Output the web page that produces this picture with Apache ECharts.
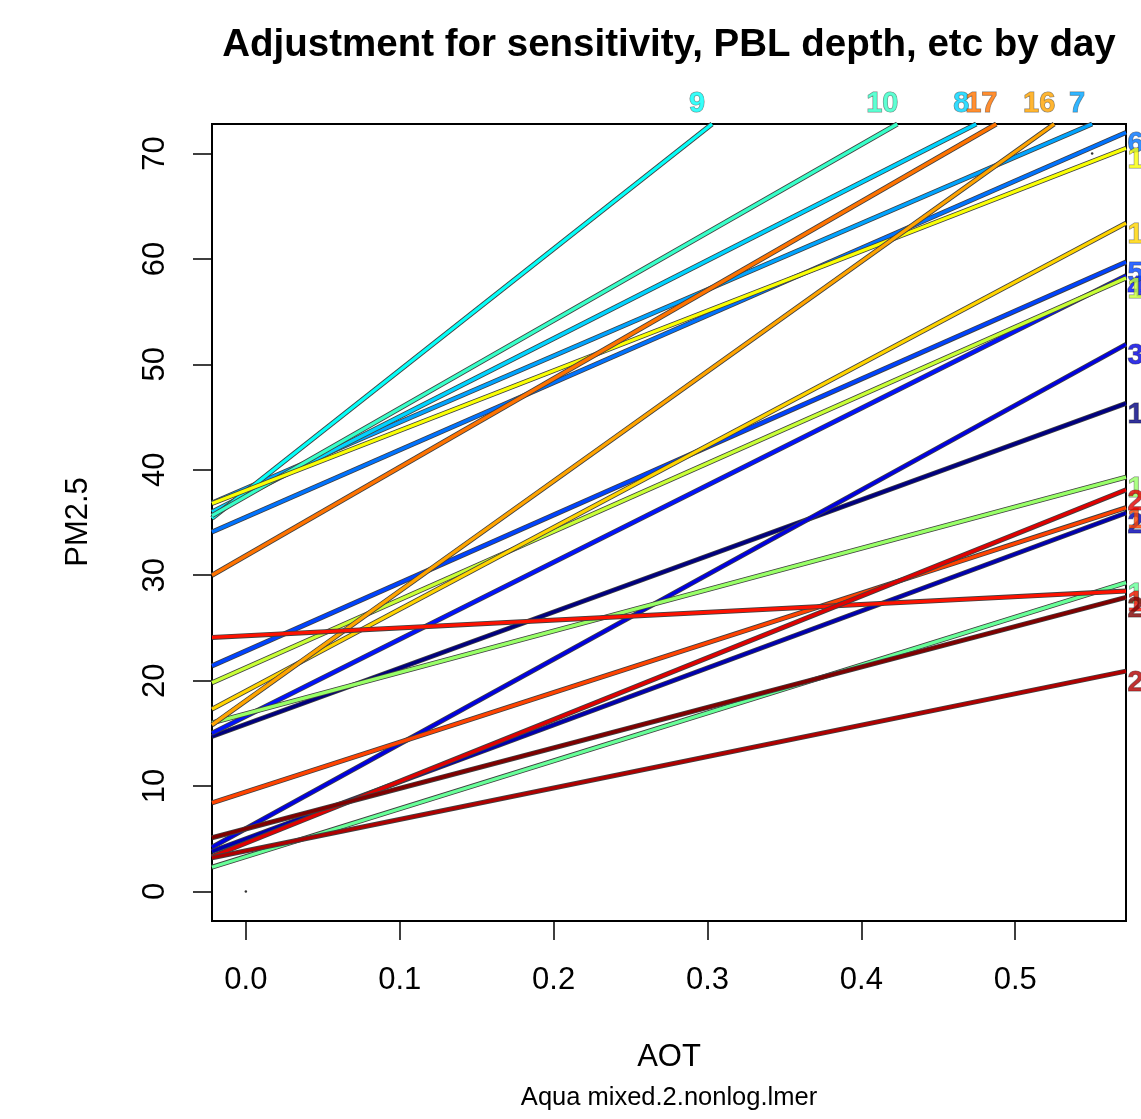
<!DOCTYPE html>
<html>
<head>
<meta charset="utf-8">
<title>Adjustment for sensitivity, PBL depth, etc by day</title>
<script src="https://cdn.jsdelivr.net/npm/echarts@6.0.0/dist/echarts.min.js"></script>
<style>
  html, body { margin: 0; padding: 0; background: #fff; }
  #chart { width: 1141px; height: 1119px; }
</style>
</head>
<body>
<div id="chart"></div>
<script>
// one fitted line per day
const days = [1, 2, 3, 4, 5, 6, 7, 8, 9, 10, 11, 12, 13, 14, 15, 16, 17, 18, 19, 20, 21, 22];
// PM2.5 where each line enters at the left edge of the plot
const startAOT = -0.022;
const startPM = [14.7, 3.8, 4.2, 15.0, 21.4, 34.1, 36.85, 36.0, 35.4, 35.65, 2.3,
                 16.0, 19.8, 36.8, 17.3, 15.8, 30.0, 8.4, 24.1, 3.3, 3.2, 5.1];
// where each line leaves the plot (right edge or top edge)
const endAOT = [0.572, 0.572, 0.572, 0.572, 0.572, 0.572, 0.55, 0.4747, 0.303, 0.4234, 0.572,
                0.572, 0.572, 0.572, 0.572, 0.5253, 0.4877, 0.572, 0.572, 0.572, 0.572, 0.572];
const endPM = [46.3, 35.9, 51.9, 58.4, 59.7, 72.0, 72.8, 72.8, 72.8, 72.8, 29.3,
               39.3, 58.2, 70.5, 63.4, 72.8, 72.8, 36.4, 28.5, 38.1, 20.9, 27.9];
// jet palette, one colour per day
const dayColors = ['#000080', '#0000B0', '#0000E1', '#0012FF', '#0043FF', '#0073FF', '#00A4FF',
                   '#00D4FF', '#06FFF9', '#37FFC8', '#67FF98', '#98FF67', '#C8FF37', '#F9FF06',
                   '#FFD400', '#FFA400', '#FF7300', '#FF4300', '#FF1200', '#E10000', '#B00000', '#800000'];
// the two plotted points that set the axis ranges
const pointAOT = [0, 0.55];
const pointPM = [0, 70];
const xTicks = [0, 0.1, 0.2, 0.3, 0.4, 0.5];
const yTicks = [0, 10, 20, 30, 40, 50, 60, 70];

const xMin = -0.022, xMax = 0.572, yMin = -2.8, yMax = 72.8;
const font = '"Liberation Sans", Arial, Helvetica, sans-serif';

let myChart = echarts.init(document.getElementById('chart'));

let series = [];
days.forEach((d, i) => {
  let pts = [[startAOT, startPM[i]], [endAOT[i], endPM[i]]];
  // dark outline under each line
  series.push({
    type: 'line', data: pts, symbol: 'none', silent: true,
    lineStyle: { color: '#404040', width: 5 }
  });
  series.push({
    type: 'line', data: pts, symbol: 'none', silent: true,
    lineStyle: { color: dayColors[i], width: 3.3 }
  });
});

// day numbers at the end of each line
series.push({
  type: 'scatter',
  symbolSize: 1,
  clip: false,
  silent: true,
  itemStyle: { color: 'rgba(0,0,0,0)' },
  data: days.map((d, i) => {
    let onTop = endPM[i] >= yMax - 0.05;
    return {
      value: [endAOT[i], endPM[i]],
      label: {
        show: true,
        formatter: String(d),
        color: dayColors[i],
        position: onTop ? 'top' : 'right',
        distance: onTop ? 5 : 1,
        offset: onTop ? [-15, 0] : [0, 12],
        fontSize: 29,
        fontWeight: 'bold',
        fontFamily: font,
        textBorderColor: 'rgba(50,50,50,0.75)',
        textBorderWidth: 1
      }
    };
  })
});

// plotted points
series.push({
  type: 'scatter',
  symbolSize: 2.5,
  silent: true,
  itemStyle: { color: '#000' },
  data: pointAOT.map((x, i) => [x, pointPM[i]])
});

let option = {
  animation: false,
  backgroundColor: '#fff',
  grid: {
    left: 212, right: 15, top: 124, bottom: 198,
    show: true, borderColor: '#000', borderWidth: 2,
    containLabel: false,
    outerBoundsMode: 'none'
  },
  xAxis: {
    type: 'value', min: xMin, max: xMax,
    axisLine: { show: false, onZero: false },
    splitLine: { show: false },
    axisTick: { show: true, length: 19, customValues: xTicks, lineStyle: { color: '#000', width: 1.5 } },
    axisLabel: {
      customValues: xTicks,
      formatter: v => v.toFixed(1),
      margin: 59, verticalAlign: 'middle',
      fontSize: 31, fontFamily: font, color: '#000'
    }
  },
  yAxis: {
    type: 'value', min: yMin, max: yMax,
    axisLine: { show: false, onZero: false },
    splitLine: { show: false },
    axisTick: { show: true, length: 19, customValues: yTicks, lineStyle: { color: '#000', width: 1.5 } },
    axisLabel: {
      customValues: yTicks,
      rotate: 90, align: 'center', verticalAlign: 'middle',
      margin: 57,
      fontSize: 31, fontFamily: font, color: '#000'
    }
  },
  graphic: [
    { type: 'text', x: 669, y: 45, silent: true,
      style: { text: 'Adjustment for sensitivity, PBL depth, etc by day', fill: '#000',
               font: 'bold 38.5px ' + font, align: 'center', verticalAlign: 'middle' } },
    { type: 'text', x: 669, y: 1057, silent: true,
      style: { text: 'AOT', fill: '#000', font: '31px ' + font, align: 'center', verticalAlign: 'middle' } },
    { type: 'text', x: 669, y: 1098, silent: true,
      style: { text: 'Aqua mixed.2.nonlog.lmer', fill: '#000', font: '25.5px ' + font, align: 'center', verticalAlign: 'middle' } },
    { type: 'text', x: 78, y: 522, rotation: Math.PI / 2, silent: true,
      style: { text: 'PM2.5', fill: '#000', font: '31px ' + font, align: 'center', verticalAlign: 'middle' } }
  ],
  series: series
};

myChart.setOption(option, true);
window.addEventListener('resize', () => {
  myChart.resize();
});
</script>
</body>
</html>
